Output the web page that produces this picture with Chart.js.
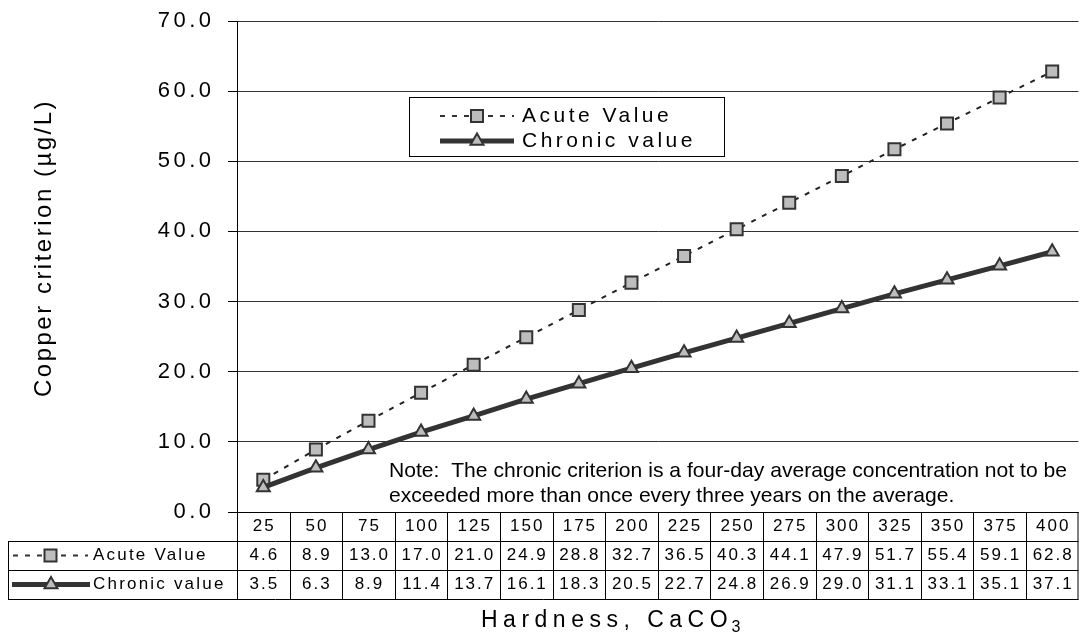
<!DOCTYPE html>
<html><head><meta charset="utf-8">
<script src="https://cdn.jsdelivr.net/npm/chart.js@4.4.1/dist/chart.umd.min.js"></script>
<style>html,body{margin:0;padding:0;background:#fff;overflow:hidden;width:1086px;height:634px;}canvas{display:block;}</style>
</head><body>
<canvas id="c" width="1089" height="634"></canvas>
<script>
const categories = ['25','50','75','100','125','150','175','200','225','250','275','300','325','350','375','400'];
const acuteValues = [4.6,8.9,13.0,17.0,21.0,24.9,28.8,32.7,36.5,40.3,44.1,47.9,51.7,55.4,59.1,62.8];
const chronicValues = [3.5,6.3,8.9,11.4,13.7,16.1,18.3,20.5,22.7,24.8,26.9,29.0,31.1,33.1,35.1,37.1];
const yTicks = [0,10,20,30,40,50,60,70];
const seriesNames = ['Acute Value','Chronic value'];
const yTitle = 'Copper criterion (\u00b5g/L)';
const xTitle = 'Hardness, CaCO';
const xTitleSub = '3';
const noteLines = ['Note:  The chronic criterion is a four-day average concentration not to be',
                   'exceeded more than once every three years on the average.'];

const FONT = '"Liberation Sans", Arial, sans-serif';
const LINE_COL = '#333';
const MARK_FILL = '#bdbdbd';

function textW(ctx, text, size, spacing) {
  ctx.font = size + 'px ' + FONT;
  ctx.letterSpacing = '0px';
  return ctx.measureText(text).width + spacing * (text.length - 1);
}
function spaced(ctx, text, x, y, size, spacing, align) {
  const w = textW(ctx, text, size, spacing);
  ctx.letterSpacing = spacing + 'px';
  ctx.textAlign = 'left';
  const sx = align === 'center' ? x - w / 2 : align === 'right' ? x - w : x;
  ctx.fillText(text, sx, y);
  ctx.letterSpacing = '0px';
}
function drawSquare(ctx, x, y) {
  ctx.save();
  ctx.fillStyle = MARK_FILL; ctx.strokeStyle = LINE_COL; ctx.lineWidth = 2; ctx.setLineDash([]);
  ctx.beginPath(); ctx.rect(x - 6, y - 6, 12, 12); ctx.fill(); ctx.stroke();
  ctx.restore();
}
function drawTri(ctx, x, y) {
  const r = 7.5;
  ctx.save();
  ctx.fillStyle = MARK_FILL; ctx.strokeStyle = LINE_COL; ctx.lineWidth = 2; ctx.setLineDash([]);
  ctx.beginPath();
  for (let k = 0; k < 3; k++) {
    const a = k * 2 * Math.PI / 3;
    const px = x + Math.sin(a) * r, py = y - Math.cos(a) * r;
    if (k === 0) ctx.moveTo(px, py); else ctx.lineTo(px, py);
  }
  ctx.closePath(); ctx.fill(); ctx.stroke();
  ctx.restore();
}
function legendSample(ctx, idx, x0, x1, y) {
  ctx.save();
  ctx.strokeStyle = LINE_COL;
  if (idx === 0) { ctx.lineWidth = 2; ctx.setLineDash([5, 7]); }
  else { ctx.lineWidth = 5; ctx.setLineDash([]); }
  ctx.beginPath(); ctx.moveTo(x0, y); ctx.lineTo(x1, y); ctx.stroke();
  ctx.restore();
  const mx = (x0 + x1) / 2;
  if (idx === 0) drawSquare(ctx, mx, y); else drawTri(ctx, mx, y);
}

const decorPlugin = {
  id: 'decor',
  afterDraw(chart) {
    const ctx = chart.ctx;
    const xs = chart.scales.x, ys = chart.scales.y;
    const area = chart.chartArea;
    ctx.save();
    ctx.fillStyle = '#000';
    ctx.textBaseline = 'middle';

    // y tick labels
    yTicks.forEach(v => {
      spaced(ctx, v.toFixed(1), 211, ys.getPixelForValue(v), 22, 3.5, 'right');
    });

    // y title
    ctx.save();
    ctx.translate(51, 397);
    ctx.rotate(-Math.PI / 2);
    ctx.textBaseline = 'alphabetic';
    spaced(ctx, yTitle, 0, 0, 24, 2.5, 'left');
    ctx.restore();

    // data table
    const n = categories.length;
    const colW = (area.right - area.left) / n;
    const rowTop = area.bottom, rowH = 29;
    const tableLeft = 8;
    ctx.strokeStyle = '#000';
    ctx.lineWidth = 1;
    ctx.beginPath();
    ctx.moveTo(area.left, Math.round(rowTop) + 0.5); ctx.lineTo(area.right, Math.round(rowTop) + 0.5);
    for (let r = 1; r <= 3; r++) {
      const y = Math.round(rowTop + r * rowH) + 0.5;
      ctx.moveTo(tableLeft, y); ctx.lineTo(area.right, y);
    }
    ctx.moveTo(tableLeft + 0.5, Math.round(rowTop + rowH)); ctx.lineTo(tableLeft + 0.5, Math.round(rowTop + 3 * rowH) + 1);
    for (let i = 0; i <= n; i++) {
      const x = Math.min(Math.round(area.left + i * colW) + 0.5, area.right - 0.5);
      ctx.moveTo(x, rowTop); ctx.lineTo(x, Math.round(rowTop + 3 * rowH) + 1);
    }
    ctx.stroke();
    categories.forEach((c, i) => {
      const cx = xs.getPixelForValue(i);
      spaced(ctx, c, cx, rowTop + rowH * 0.5, 17, 2, 'center');
      spaced(ctx, acuteValues[i].toFixed(1), cx, rowTop + rowH * 1.5, 17, 2, 'center');
      spaced(ctx, chronicValues[i].toFixed(1), cx, rowTop + rowH * 2.5, 17, 2, 'center');
    });
    legendSample(ctx, 0, 13, 88, rowTop + rowH * 1.5);
    legendSample(ctx, 1, 12, 90, rowTop + rowH * 2.5);
    ctx.fillStyle = '#000';
    spaced(ctx, seriesNames[0], 93, rowTop + rowH * 1.5, 17, 2.2, 'left');
    spaced(ctx, seriesNames[1], 93, rowTop + rowH * 2.5, 17, 2.2, 'left');

    // x title with subscript
    ctx.textBaseline = 'alphabetic';
    const wT = textW(ctx, xTitle, 23, 5.5);
    spaced(ctx, xTitle, 481, 627, 23, 5.5, 'left');
    spaced(ctx, xTitleSub, 481 + wT + 4, 632, 16, 0, 'left');

    // legend box
    ctx.strokeStyle = '#000'; ctx.lineWidth = 1;
    ctx.fillStyle = '#fff';
    ctx.fillRect(409.5, 97.5, 315, 59);
    ctx.strokeRect(409.5, 97.5, 315, 59);
    ctx.textBaseline = 'middle';
    legendSample(ctx, 0, 440, 514, 116);
    legendSample(ctx, 1, 440, 514, 141);
    ctx.fillStyle = '#000';
    spaced(ctx, seriesNames[0], 522, 116, 21, 3.5, 'left');
    spaced(ctx, seriesNames[1], 522, 141, 21, 3.5, 'left');

    // note
    ctx.textBaseline = 'alphabetic';
    ctx.font = '21px ' + FONT;
    ctx.letterSpacing = '0px';
    const w1 = ctx.measureText(noteLines[0]).width;
    const k = 678 / w1;
    [477, 502].forEach((by, li) => {
      ctx.save();
      ctx.translate(389, by);
      ctx.scale(k, 1);
      ctx.textAlign = 'left';
      ctx.fillText(noteLines[li], 0, 0);
      ctx.restore();
    });
    ctx.restore();
  }
};

new Chart(document.getElementById('c'), {
  type: 'line',
  data: {
    labels: categories,
    datasets: [
      { label: seriesNames[0], data: acuteValues, borderColor: '#222', borderWidth: 2, borderDash: [5, 7],
        pointStyle: 'rect', pointRadius: 8.5, pointBorderWidth: 2, pointBorderColor: LINE_COL,
        pointBackgroundColor: MARK_FILL, tension: 0, order: 1 },
      { label: seriesNames[1], data: chronicValues, borderColor: LINE_COL, borderWidth: 5,
        pointStyle: 'triangle', pointRadius: 7.5, pointBorderWidth: 2, pointBorderColor: LINE_COL,
        pointBackgroundColor: MARK_FILL, tension: 0, order: 0 }
    ]
  },
  options: {
    responsive: false, animation: false, devicePixelRatio: 1, events: [],
    layout: { padding: { top: 21, right: 0, left: 0, bottom: 0 } },
    plugins: { legend: { display: false }, tooltip: { enabled: false } },
    scales: {
      x: { type: 'category', offset: true, grid: { display: false }, border: { display: false },
           ticks: { display: false }, afterFit(s) { s.height = 122; } },
      y: { min: 0, max: 70,
           afterBuildTicks(s) { s.ticks = yTicks.map(v => ({ value: v })); },
           ticks: { display: false },
           grid: { color: '#333', tickColor: '#000', tickLength: 9, lineWidth: 1, drawTicks: true },
           border: { display: true, color: '#000', width: 1 },
           afterFit(s) { s.width = 237; } }
    }
  },
  plugins: [decorPlugin]
});
</script>
</body></html>
